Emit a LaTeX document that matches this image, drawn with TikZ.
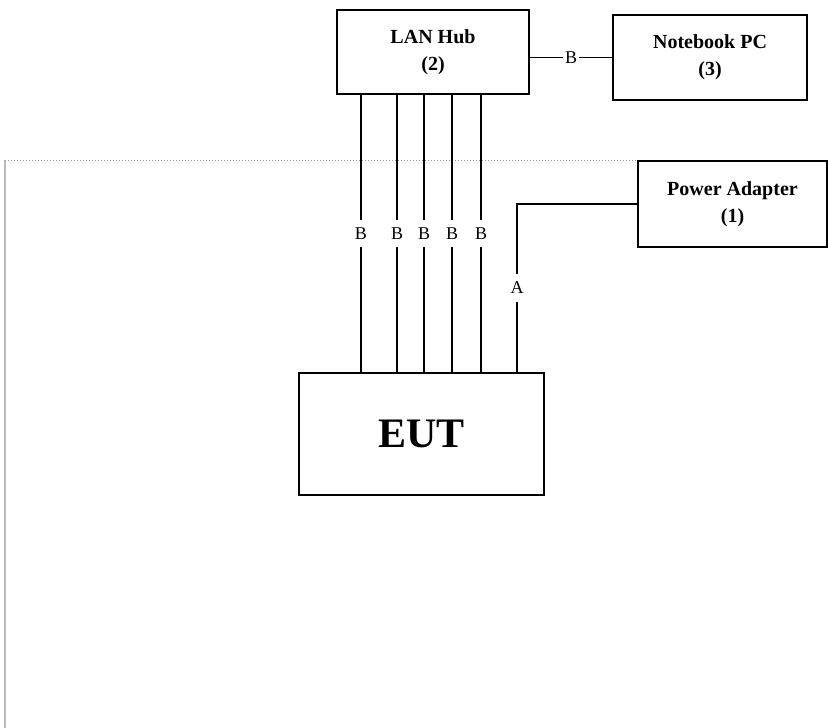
\documentclass[tikz,border=0pt]{standalone}
\usepackage{fontspec}
\setmainfont{Liberation Serif}

\tikzset{
  unit/.style={draw,line width=2pt,align=center,inner sep=0pt,
    font=\bfseries\fontsize{20}{27}\selectfont},
  cable/.style={line width=1.8pt},
  cablelabel/.style={fill=white,inner xsep=2pt,inner ysep=8pt,
    font=\fontsize{18}{20}\selectfont},
}

\begin{document}
\begin{tikzpicture}[x=1pt,y=-1pt]
  \useasboundingbox (0,0) rectangle (828,728);
  % units
  \node [unit,minimum width=192pt,minimum height=84pt]
    at (433,52) (hub) {LAN Hub\\(2)}
  ;
  \node [unit,minimum width=194pt,minimum height=85pt]
    at (710,57.5) (notebook) {Notebook PC\\(3)}
  ;
  \node [unit,minimum width=189pt,minimum height=86pt]
    at (732.5,204) (power) {Power Adapter\\(1)}
  ;
  \node [unit,minimum width=245pt,minimum height=122pt,
    font=\bfseries\fontsize{42}{42}\selectfont]
    at (421.5,434) (eut) {EUT}
  ;
  % test area outline
  \draw [gray!55,line width=1.6pt]
    (5,728) -- (5,160)
  ;
  \draw [gray!80,dotted,line width=1pt]
    (5,160) -- (power.north west)
  ;
  % hub to notebook
  \draw [cable]
    (notebook.west -| hub.east)
    -- node [cablelabel,inner ysep=1pt] {B} (notebook.west)
  ;
  % hub to eut
  \foreach \x in {361,397,424,452,481}
    \draw [cable]
      (\x,0 |- hub.south)
      -- node [cablelabel] {B} (\x,0 |- eut.north)
    ;
  % power adapter to eut
  \coordinate (pwrin) at (517,0 |- eut.north);
  \draw [cable]
    (power.west)
    -| node [cablelabel,pos=0.75] {A} (pwrin)
  ;
\end{tikzpicture}
\end{document}
